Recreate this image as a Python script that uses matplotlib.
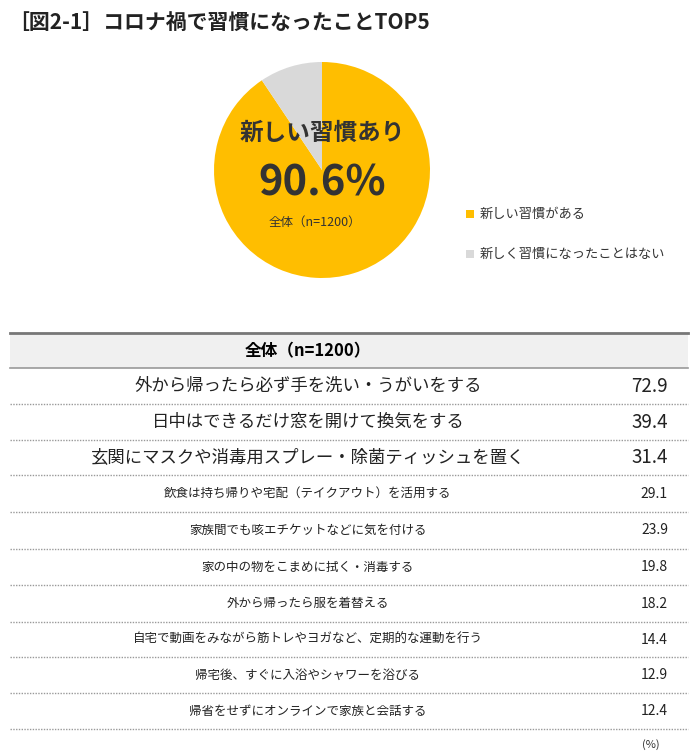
import matplotlib
matplotlib.use("Agg")
import matplotlib.pyplot as plt
from matplotlib.patches import Rectangle

plt.rcParams["font.family"] = "Noto Sans CJK JP"

title = "［図2-1］コロナ禍で習慣になったことTOP5"
pie_labels = ["新しい習慣がある", "新しく習慣になったことはない"]
pie_values = [90.6, 9.4]
pie_colors = ["#FFBE00", "#D9D9D9"]
items = ["外から帰ったら必ず手を洗い・うがいをする", "日中はできるだけ窓を開けて換気をする",
         "玄関にマスクや消毒用スプレー・除菌ティッシュを置く", "飲食は持ち帰りや宅配（テイクアウト）を活用する",
         "家族間でも咳エチケットなどに気を付ける", "家の中の物をこまめに拭く・消毒する",
         "外から帰ったら服を着替える", "自宅で動画をみながら筋トレやヨガなど、定期的な運動を行う",
         "帰宅後、すぐに入浴やシャワーを浴びる", "帰省をせずにオンラインで家族と会話する"]
values = [72.9, 39.4, 31.4, 29.1, 23.9, 19.8, 18.2, 14.4, 12.9, 12.4]

W, H = 700, 756
fig = plt.figure(figsize=(7, 7.56), dpi=100)

cx, cy, r = 322, 170, 108
pax = fig.add_axes([(cx - r) / W, (H - cy - r) / H, 2 * r / W, 2 * r / H])
pax.pie(pie_values, colors=pie_colors, startangle=90, counterclock=False,
        wedgeprops=dict(linewidth=0))
pax.set_xlim(-1, 1); pax.set_ylim(-1, 1)
pax.set_aspect("auto")

ax = fig.add_axes([0, 0, 1, 1])
ax.patch.set_alpha(0)
ax.set_xlim(0, W); ax.set_ylim(H, 0); ax.axis("off")

ax.text(8, 22, title, fontsize=15, fontweight="bold", va="center", ha="left", color="#222222")

ax.text(322, 133, "新しい習慣あり", fontsize=17, fontweight="bold", ha="center", va="center", color="#333333")
ax.text(322, 183, "90.6%", fontsize=30, fontweight="bold", ha="center", va="center", color="#333333")
ax.text(315, 222, "全体（n=1200）", fontsize=9, ha="center", va="center", color="#333333")

for i, lab in enumerate(pie_labels):
    y = 214 + i * 40
    ax.add_patch(Rectangle((466, y - 4), 8, 8, color=pie_colors[i], lw=0))
    ax.text(480, y, lab, fontsize=9.5, va="center", ha="left", color="#333333")

# table
x0, x1 = 10, 688
ax.add_patch(Rectangle((x0, 333), x1 - x0, 35, color="#F0F0F0", lw=0))
ax.plot([x0, x1], [333, 333], color="#777777", lw=2)
ax.plot([x0, x1], [368, 368], color="#999999", lw=1.2)
ax.text(308, 351, "全体（n=1200）", fontsize=12, fontweight="bold", ha="center", va="center")

edges = [368, 404, 440, 475, 512, 549, 585, 622, 657, 693, 729]
for i, (t, v) in enumerate(zip(items, values)):
    yc = (edges[i] + edges[i + 1]) / 2
    big = i < 3
    ax.text(308, yc, t, fontsize=12.5 if big else 9, ha="center", va="center", color="#222222")
    ax.text(668, yc, f"{v:.1f}", fontsize=13.5 if big else 10, ha="right", va="center", color="#222222")
    ax.plot([x0, x1], [edges[i + 1]] * 2, color="#999999", lw=1, ls=(0, (1, 1)))

ax.text(660, 745, "(%)", fontsize=8, ha="right", va="center", color="#333333")
fig.savefig("out.png", dpi=100)
